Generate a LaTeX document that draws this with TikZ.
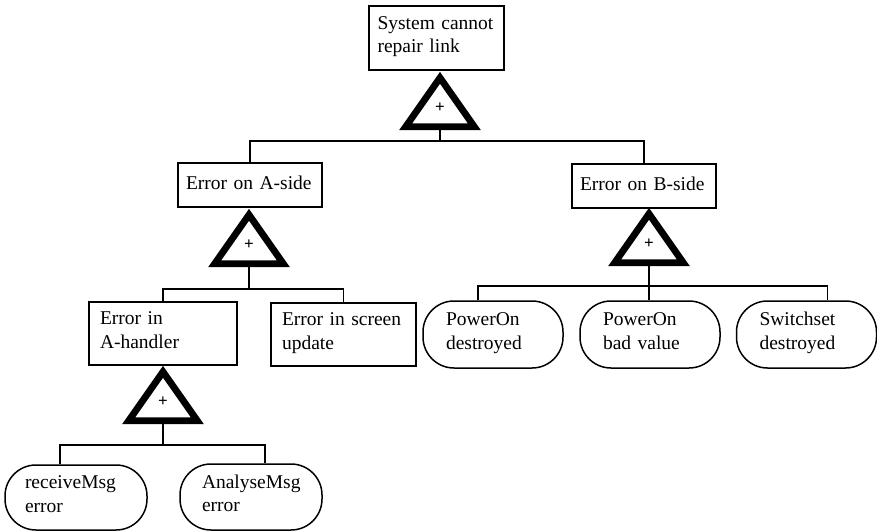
\documentclass[tikz,border=0pt]{standalone}
\usepackage{fontspec}
\setmainfont{Liberation Serif}
\usetikzlibrary{calc}
\begin{document}
\begin{tikzpicture}[x=1pt,y=-1pt,
  font=\fontsize{19.5}{23.5}\selectfont,
  event/.style={draw, line width=1.5pt, align=left, anchor=center},
  basic/.style={draw, line width=1.5pt, align=left, anchor=center,
    rounded corners=31pt, minimum width=140pt, minimum height=66pt,
    inner xsep=23pt, text width=94pt},
  wire/.style={line width=1.4pt},
  gate/.pic={
    \draw[line width=6.8pt, line join=miter] (0,5.8) -- (34.3,54.7) -- (-34.3,54.7) -- cycle;
    \node[font=\fontsize{17}{17}\selectfont\bfseries, inner sep=0pt] at (0,36) {+};
    \coordinate (-bot) at (0,58);
  }]
\useasboundingbox (0,0) rectangle (877,532);

% intermediate events (rectangles)
\node[event, minimum width=135pt, minimum height=64pt, inner xsep=8.5pt, text width=118pt]
  (top) at (436.5,38) {System cannot\\repair link\strut};
\node[event, minimum width=144pt, minimum height=44pt, inner xsep=8pt, text width=128pt]
  (ea) at (250,185) {\mbox{Error on A-side}\strut};
\node[event, minimum width=144pt, minimum height=44pt, inner xsep=8pt, text width=128pt]
  (eb) at (644,186) {\mbox{Error on B-side}\strut};
\node[event, minimum width=148pt, minimum height=63pt, inner xsep=11pt, text width=126pt]
  (eh) at (163,333.5) {Error in\\A-handler\strut};
\node[event, minimum width=145pt, minimum height=63pt, inner xsep=11pt, text width=123pt]
  (es) at (343.5,334.5) {Error in screen\\update\strut};

% basic events (rounded)
\node[basic, minimum height=67pt] (pd) at (493,334.5) {PowerOn\\destroyed\strut};
\node[basic, minimum height=67pt] (pb) at (650,334.5) {PowerOn\\bad value\strut};
\node[basic, minimum height=67pt] (ss) at (806.5,334.5) {Switchset\\destroyed\strut};
\node[basic, minimum width=142pt, minimum height=65pt, inner xsep=20pt, text width=102pt]
  (rm) at (76,497.5) {receiveMsg\\error\strut};
\node[basic, minimum width=142pt, minimum height=66pt, inner xsep=22pt, text width=98pt]
  (am) at (251,497) {AnalyseMsg\\error\strut};

% OR gates
\pic (g0) at (440,72) {gate};
\pic (gA) at (249,209) {gate};
\pic (gB) at (649,208) {gate};
\pic (gH) at (163,366) {gate};

% junction points on the buses
\coordinate (j0) at (440,141);
\coordinate (j1) at (249,289);
\coordinate (j2) at (650,286);
\coordinate (j3) at (163,445);

% connectors
\draw[wire] (g0-bot) -- (j0);
\draw[wire] (ea.north) |- (j0) -| (eb.north);

\draw[wire] (gA-bot) -- (j1);
\draw[wire] (eh.north) |- (j1) -| (es.north);

\draw[wire] (gB-bot) -- (gB-bot |- pb.north);
\draw[wire] ($(pd.north)+(-15,0)$) |- (j2) -| ($(ss.north)+(21,0)$);

\draw[wire] (gH-bot) -- (j3);
\draw[wire] ($(rm.north)+(-16,0)$) |- (j3) -| ($(am.north)+(14,0)$);
\end{tikzpicture}
\end{document}
